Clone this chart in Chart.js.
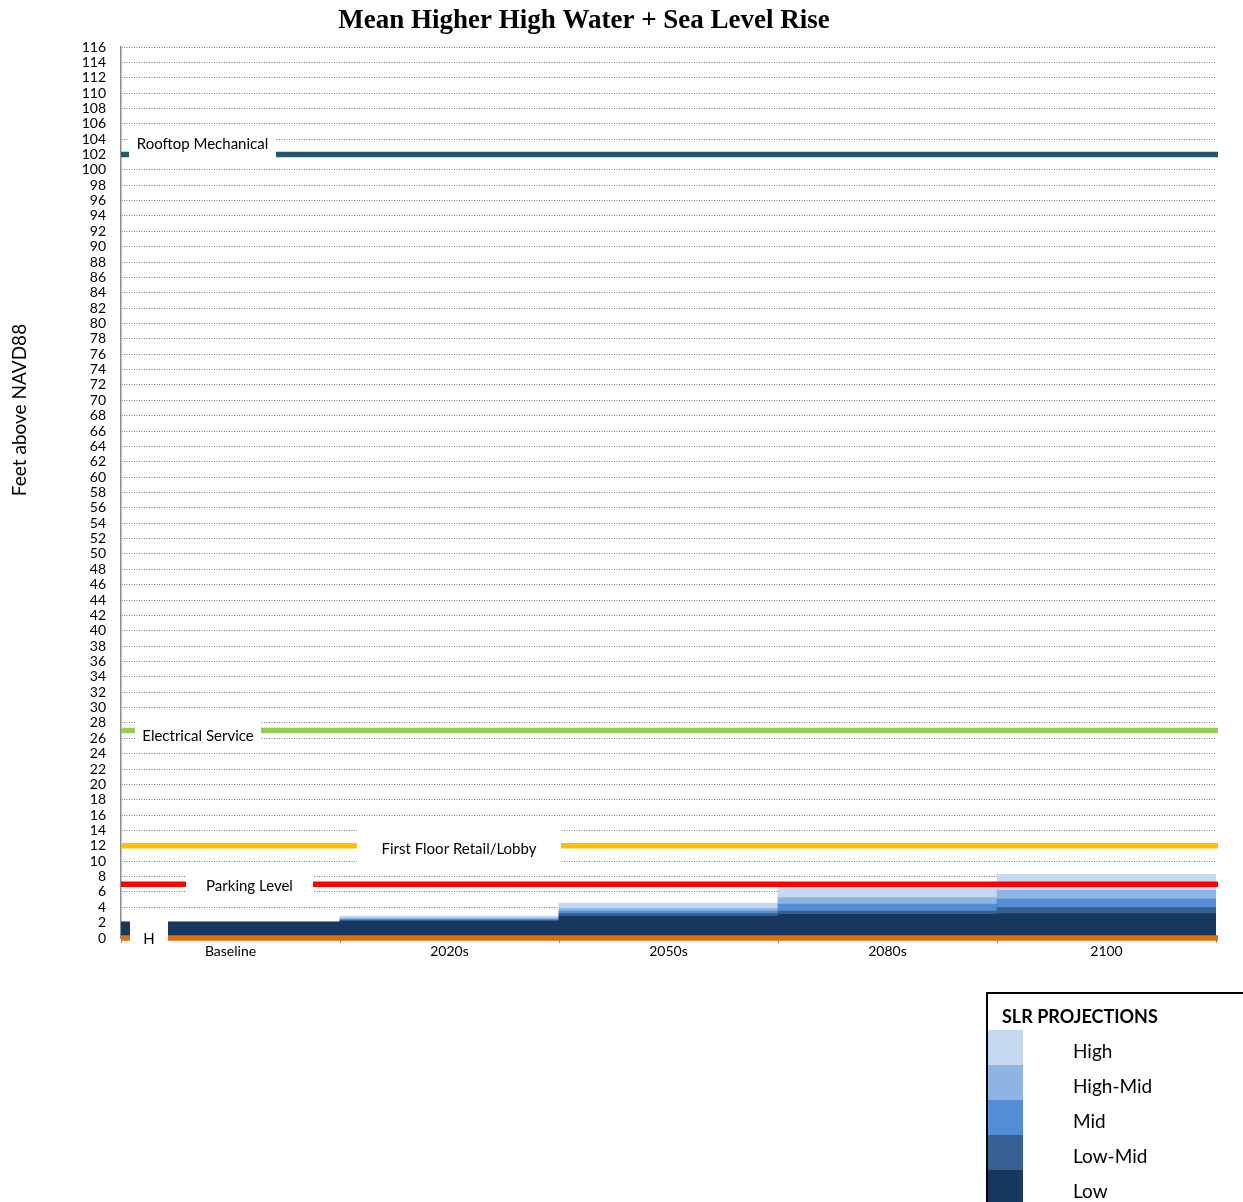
<!DOCTYPE html>
<html>
<head>
<meta charset="utf-8">
<title>Mean Higher High Water + Sea Level Rise</title>
<script src="https://cdn.jsdelivr.net/npm/chart.js@4/dist/chart.umd.min.js"></script>
<style>
  html, body { margin: 0; padding: 0; background: #fff; }
  #slrChart { display: block; }
</style>
</head>
<body>
<canvas id="slrChart" width="1243" height="1202"></canvas>
<script>
// periods on the x axis
const periods = ['Baseline', '2020s', '2050s', '2080s', '2100'];

// water level (ft NAVD88) for each SLR projection
const lowLevels     = [2.08, 2.17, 2.82, 3.08, 3.17];
const lowMidLevels  = [2.08, 2.30, 3.17, 3.52, 3.95];
const midLevels     = [2.08, 2.43, 3.52, 4.43, 5.08];
const highMidLevels = [2.08, 2.60, 3.86, 5.25, 6.20];
const highLevels    = [2.08, 2.86, 4.56, 6.57, 8.28];

// building elevations
const floorNames = ['Rooftop Mechanical', 'Electrical Service', 'First Floor Retail/Lobby', 'Parking Level', 'H'];
const floorElev  = [102, 27, 12, 7, 0];

const yMin = 0, yMax = 116, yStep = 2;

const FONT = 'Lato, "Open Sans", sans-serif';

// line colour, label box left (px from plot left), box width, half height, text offset
const floorStyle = [
  { color: '#215967', boxX: 8,   boxW: 147, boxH: 15, dy: -10 },
  { color: '#92D050', boxX: 14,  boxW: 126, boxH: 15, dy: 6 },
  { color: '#FFC000', boxX: 236, boxW: 204, boxH: 19, dy: 3 },
  { color: '#FF0000', boxX: 65,  boxW: 127, boxH: 15, dy: 1.5 },
  { color: '#E46C0A', boxX: 9,   boxW: 38,  boxH: 19, dy: 1 }
];

const floorLines = {
  id: 'floorLines',
  afterDatasetsDraw(chart) {
    const { ctx, chartArea, scales } = chart;
    ctx.save();
    floorElev.forEach((v, i) => {
      const y = scales.y.getPixelForValue(v);
      ctx.strokeStyle = floorStyle[i].color;
      ctx.lineWidth = 5.5;
      ctx.lineCap = 'butt';
      ctx.beginPath();
      ctx.moveTo(chartArea.left, y);
      ctx.lineTo(chartArea.right + 2, y);
      ctx.stroke();
    });
    // white label boxes sit over the lines and grid
    ctx.font = '15px ' + FONT;
    ctx.textAlign = 'center';
    ctx.textBaseline = 'middle';
    floorElev.forEach((v, i) => {
      const s = floorStyle[i];
      const y = scales.y.getPixelForValue(v);
      const x0 = chartArea.left + s.boxX;
      const ty = y + s.dy;
      ctx.fillStyle = '#fff';
      ctx.fillRect(x0, ty - s.boxH, s.boxW, s.boxH * 2);
      ctx.fillStyle = '#000';
      ctx.fillText(floorNames[i], x0 + s.boxW / 2, ty);
    });
    ctx.restore();
  }
};

// chart title and rotated y-axis title
const headings = {
  id: 'headings',
  afterDraw(chart) {
    const { ctx } = chart;
    ctx.save();
    ctx.fillStyle = '#000';
    ctx.textAlign = 'center';
    ctx.textBaseline = 'middle';
    ctx.font = 'bold 27px "Liberation Serif", "Times New Roman", serif';
    ctx.fillText('Mean Higher High Water + Sea Level Rise', 584, 21);
    ctx.translate(20, 410);
    ctx.rotate(-Math.PI / 2);
    ctx.font = '19px ' + FONT;
    ctx.fillText('Feet above NAVD88', 0, 0);
    ctx.restore();
  }
};

// boxed legend, highest projection first
const slrLegend = {
  id: 'slrLegend',
  afterDraw(chart) {
    const { ctx } = chart;
    const sets = chart.data.datasets.slice().reverse();
    const left = 987, top = 993;
    ctx.save();
    ctx.fillStyle = '#fff';
    ctx.fillRect(left, top, 300, 260);
    ctx.strokeStyle = '#000';
    ctx.lineWidth = 2;
    ctx.strokeRect(left, top, 300, 260);
    ctx.fillStyle = '#000';
    ctx.font = 'bold 18px ' + FONT;
    ctx.textBaseline = 'middle';
    ctx.fillText('SLR PROJECTIONS', left + 15, top + 24);
    ctx.font = '19px ' + FONT;
    sets.forEach((ds, i) => {
      const y = top + 37 + i * 35;
      ctx.fillStyle = ds.backgroundColor;
      ctx.fillRect(left + 1, y, 35, 35);
      ctx.fillStyle = '#000';
      ctx.fillText(ds.label, left + 86, y + 22);
    });
    ctx.restore();
  }
};

function bars(label, data, color) {
  return {
    label: label,
    data: data,
    backgroundColor: color,
    borderWidth: 0,
    grouped: false,
    categoryPercentage: 1,
    barPercentage: 1
  };
}

new Chart(document.getElementById('slrChart'), {
  type: 'bar',
  data: {
    labels: periods,
    // first dataset is painted last, so Low sits in front
    datasets: [
      bars('Low', lowLevels, '#17375E'),
      bars('Low-Mid', lowMidLevels, '#366092'),
      bars('Mid', midLevels, '#538DD5'),
      bars('High-Mid', highMidLevels, '#8DB4E2'),
      bars('High', highLevels, '#C5D9F1')
    ]
  },
  options: {
    responsive: false,
    animation: false,
    layout: { padding: { left: 0, right: 27, top: 47, bottom: 234 } },
    plugins: {
      legend: { display: false },
      tooltip: { enabled: false },
      title: { display: false }
    },
    scales: {
      x: {
        afterFit(scale) { scale.height = 30; },
        grid: { offset: true, drawOnChartArea: false, drawTicks: true, tickLength: 5, color: '#8c8c8c' },
        border: { display: false },
        ticks: { color: '#000', font: { family: FONT, size: 14 }, padding: 0 }
      },
      y: {
        min: yMin,
        max: yMax,
        afterFit(scale) { scale.width = 121; },
        grid: { drawTicks: false, color: '#777', lineWidth: 1 },
        border: { display: true, color: '#8c8c8c', width: 1.5, dash: [1, 1.5] },
        ticks: { stepSize: yStep, autoSkip: false, color: '#000', padding: 15, font: { family: FONT, size: 14 } }
      }
    }
  },
  plugins: [floorLines, headings, slrLegend]
});
</script>
</body>
</html>
